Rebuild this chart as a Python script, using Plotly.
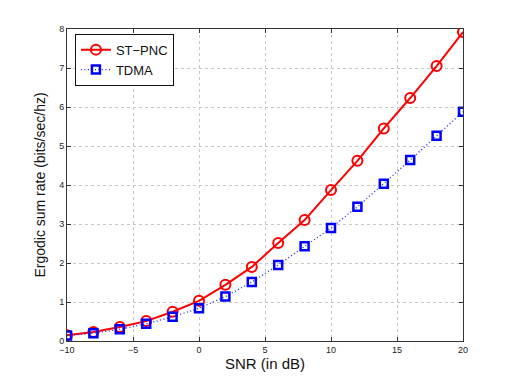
import plotly.graph_objects as go

snr = [-10, -8, -6, -4, -2, 0, 2, 4, 6, 8, 10, 12, 14, 16, 18, 20]
st_pnc = [0.15, 0.23, 0.36, 0.51, 0.75, 1.03, 1.44, 1.90, 2.51, 3.10, 3.87, 4.62, 5.45, 6.23, 7.05, 7.92]
tdma = [0.14, 0.20, 0.30, 0.44, 0.62, 0.84, 1.14, 1.51, 1.95, 2.43, 2.90, 3.44, 4.03, 4.64, 5.26, 5.88]

fig = go.Figure()

# ST-PNC curve
fig.add_trace(go.Scatter(
    x=snr, y=st_pnc, name='ST\u2212PNC', mode='lines+markers',
    line=dict(color='#ff0000', width=2),
    marker=dict(symbol='circle-open', size=10, color='#ff0000', line=dict(width=2))
))

# TDMA curve
fig.add_trace(go.Scatter(
    x=snr, y=tdma, name='TDMA', mode='lines+markers',
    line=dict(color='#2020ff', width=1.3, dash='1px,2.5px'),
    marker=dict(symbol='square-open', size=8, color='#0000ff', line=dict(width=2.5))
))

axis_style = dict(
    showline=True, linecolor='#333333', linewidth=1, mirror='ticks',
    ticks='inside', ticklen=4, tickcolor='#333333',
    showgrid=True, gridcolor='#c8c8c8', griddash='dot', gridwidth=1,
    zeroline=False, tickfont=dict(size=9, color='#222222'),
)

# page has an 8px body margin, so the figure is a bit smaller than the window
fig.update_layout(
    width=504, height=376,
    paper_bgcolor='white', plot_bgcolor='white',
    font=dict(family='Liberation Sans, Arial, sans-serif', color='#111111'),
    margin=dict(l=59, r=49, t=21, b=43),
    showlegend=True,
    legend=dict(
        x=0.02, y=0.985, xanchor='left', yanchor='top',
        bgcolor='white', bordercolor='#111111', borderwidth=1,
        font=dict(size=13), tracegroupgap=0, itemwidth=30,
    ),
    xaxis=dict(axis_style, range=[-10, 20], tickvals=[-10, -5, 0, 5, 10, 15, 20],
               title=dict(text='SNR (in dB)', font=dict(size=15), standoff=4)),
    yaxis=dict(axis_style, range=[0, 8], dtick=1,
               title=dict(text='Ergodic sum rate (bits/sec/hz)', font=dict(size=14), standoff=10)),
)

fig.write_html("out.html")
